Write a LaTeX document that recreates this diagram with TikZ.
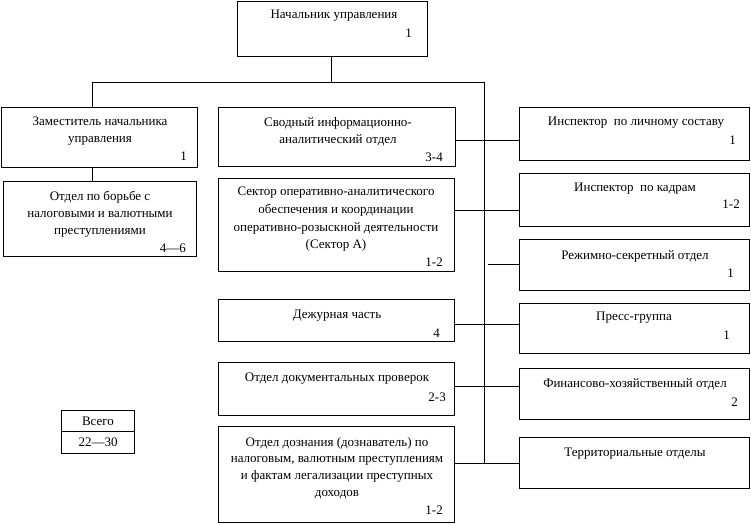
\documentclass[tikz,border=0pt]{standalone}
\usepackage{fontspec}
\setmainfont{Liberation Serif}
\begin{document}
\begin{tikzpicture}[x=1pt,y=-1pt,
  box/.style={draw, line width=1pt, inner sep=0pt, anchor=north west, fill=white},
  txt/.style={inner sep=0pt, align=center, font=\fontsize{13}{17}\selectfont},
  num/.style={inner sep=0pt, anchor=east, font=\fontsize{13}{17}\selectfont},
  con/.style={line width=1pt}]
\useasboundingbox (0,0) rectangle (751,524);
% boxes: left column
\node[box, minimum width=190pt, minimum height=55pt] (top) at (237,1) {};
\node[box, minimum width=196pt, minimum height=60pt] (dep) at (1,107) {};
\node[box, minimum width=193pt, minimum height=75pt] (borba) at (3,181) {};
\node[box, minimum width=237pt, minimum height=59pt] (svod) at (218,107) {};
\node[box, minimum width=236pt, minimum height=93pt] (sektor) at (218,178) {};
\node[box, minimum width=236pt, minimum height=42pt] (dezh) at (218,299) {};
\node[box, minimum width=236pt, minimum height=53pt] (docs) at (218,362) {};
\node[box, minimum width=236pt, minimum height=96pt] (dozn) at (218,426) {};
% right column
\node[box, minimum width=230pt, minimum height=53pt] (insp1) at (519,107) {};
\node[box, minimum width=230pt, minimum height=53pt] (insp2) at (519,173) {};
\node[box, minimum width=230pt, minimum height=51pt] (rezh) at (519,239) {};
\node[box, minimum width=230pt, minimum height=50pt] (press) at (519,303) {};
\node[box, minimum width=230pt, minimum height=51pt] (fin) at (519,368) {};
\node[box, minimum width=230pt, minimum height=51pt] (terr) at (519,437) {};
% total
\node[box, minimum width=73pt, minimum height=21pt] (vsego) at (61,410) {};
\node[box, minimum width=73pt, minimum height=22pt] (itog) at (61,431) {};

% texts
\node[txt] at (334,16) {Начальник управления};
\node[num] at (412,33) {1};
\node[txt] at (100,131.5) {Заместитель начальника\\управления};
\node[num] at (187,156) {1};
\node[txt] at (100,214) {Отдел по борьбе с\\налоговыми и валютными\\преступлениями};
\node[num] at (186,248) {4—6};
\node[txt] at (338,131.5) {Сводный информационно-\\аналитический отдел};
\node[num] at (443,157) {3-4};
\node[txt, font=\fontsize{13}{17.7}\selectfont] at (336,219.5) {Сектор оперативно-аналитического\\обеспечения и координации\\оперативно-розыскной деятельности\\(Сектор А)};
\node[num] at (443,262) {1-2};
\node[txt] at (337,316) {Дежурная часть};
\node[num] at (440,333) {4};
\node[txt] at (337,379) {Отдел документальных проверок};
\node[num] at (446,397) {2-3};
\node[txt, font=\fontsize{13}{16.7}\selectfont] at (337,468) {Отдел дознания (дознаватель) по\\налоговым, валютным преступлениям\\и фактам легализации преступных\\доходов};
\node[num] at (443,510) {1-2};

\node[txt] at (636,123) {Инспектор\ \ по личному составу};
\node[num] at (736,140) {1};
\node[txt] at (635,189) {Инспектор\ \ по кадрам};
\node[num] at (740,204) {1-2};
\node[txt] at (635,256) {Режимно-секретный отдел};
\node[num] at (734,273) {1};
\node[txt] at (634,318) {Пресс-группа};
\node[num] at (730,335) {1};
\node[txt] at (635,384) {Финансово-хозяйственный отдел};
\node[num] at (738,402) {2};
\node[txt] at (635,454) {Территориальные отделы};

\node[txt] at (vsego.center) {Всего};
\node[txt] at (itog.center) {22—30};

% connectors
\coordinate (j0) at (331,83);
\coordinate (jl) at (92,83);
\coordinate (jr) at (484,83);
\coordinate (b1) at (484,140);
\coordinate (b2) at (484,210);
\coordinate (b3) at (488,264);
\coordinate (b4) at (484,324);
\coordinate (b5) at (484,386);
\coordinate (b6) at (484,463);
\draw[con] (top.south -| j0) -- (j0);
\draw[con] (jl) -- (jr) -- (b6);
\draw[con] (jl) -- (dep.north -| jl);
\draw[con] (dep.south -| jl) -- (borba.north -| jl);
\draw[con] (svod.east |- b1) -- (insp1.west |- b1);
\draw[con] (sektor.east |- b2) -- (insp2.west |- b2);
\draw[con] (b3) -- (rezh.west |- b3);
\draw[con] (dezh.east |- b4) -- (press.west |- b4);
\draw[con] (docs.east |- b5) -- (fin.west |- b5);
\draw[con] (dozn.east |- b6) -- (terr.west |- b6);
\end{tikzpicture}
\end{document}
